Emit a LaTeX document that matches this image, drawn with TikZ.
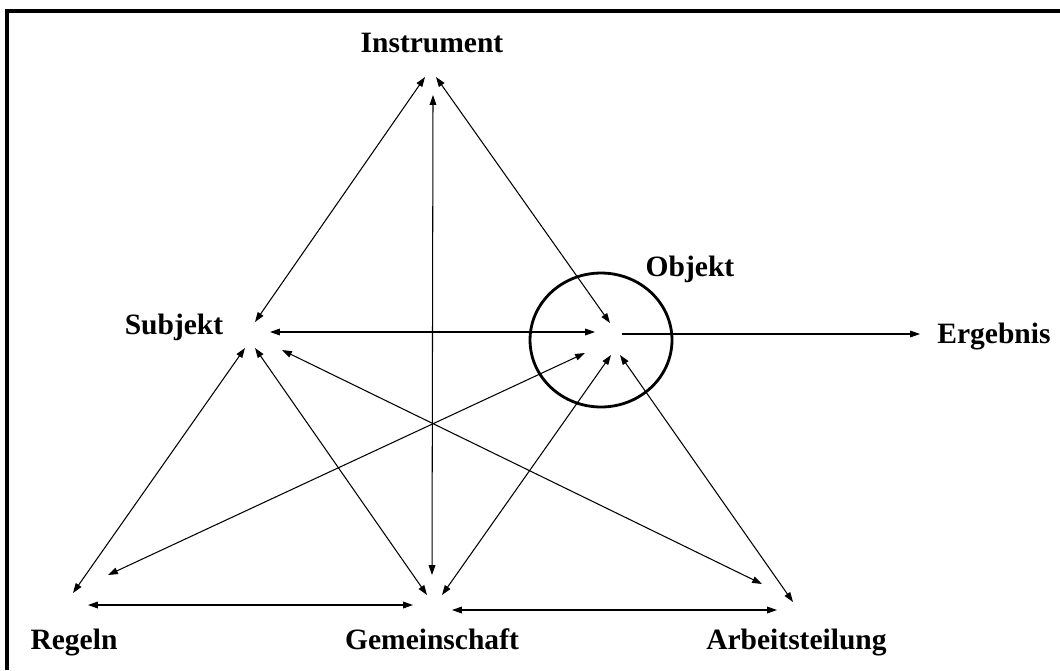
\documentclass[tikz,border=0pt]{standalone}
\usepackage{fontspec}
\setmainfont{Liberation Serif}
\usetikzlibrary{arrows.meta,shapes.geometric}
\begin{document}
\begin{tikzpicture}[
        x=0.02cm, y=-0.02cm,
        label/.style={font=\bfseries\fontsize{16.8}{20}\selectfont, inner sep=0pt, anchor=base},
        link/.style={{Triangle[length=5.6pt,width=3.8pt]}-{Triangle[length=5.6pt,width=3.8pt]}, line width=0.6pt},
        oneway/.style={-{Triangle[length=5.6pt,width=3.8pt]}, line width=0.6pt}
    ]
    \useasboundingbox (0,0) rectangle (1060,670);
    \draw[line width=1.9pt] (1060,11) -- (7,11) -- (7,670);
    % labels
    \node[label] (instrument) at (432,52) {Instrument};
    \node[label] (subjekt) at (174,334) {Subjekt};
    \node[label] (objekt) at (690,276) {Objekt};
    \node[label, anchor=base west] (ergebnis) at (937,343) {Ergebnis};
    \node[label] (regeln) at (74,649) {Regeln};
    \node[label] (gemeinschaft) at (432,649) {Gemeinschaft};
    \node[label, anchor=base east] (arbeitsteilung) at (887,649) {Arbeitsteilung};
    \node[draw, ellipse, line width=1.6pt, minimum width=2.84cm, minimum height=2.68cm] (objring) at (601,340) {};
    % end points
    \coordinate (ins-sub) at (425,77);
    \coordinate (ins-obj) at (436,77);
    \coordinate (ins-gem) at (433,95);
    \coordinate (sub-ins) at (255,322);
    \coordinate (sub-obj) at (270,332);
    \coordinate (sub-reg) at (245,348);
    \coordinate (sub-gem) at (255,348);
    \coordinate (sub-arb) at (282,350);
    \coordinate (obj-ins) at (610,323);
    \coordinate (obj-sub) at (595,332);
    \coordinate (obj-erg) at (622,334);
    \coordinate (obj-reg) at (585,353);
    \coordinate (obj-gem) at (611,355);
    \coordinate (obj-arb) at (620,355);
    \coordinate (erg-obj) at (920,334);
    \coordinate (reg-sub) at (73,593);
    \coordinate (reg-obj) at (108,575);
    \coordinate (reg-gem) at (88,605);
    \coordinate (gem-ins) at (432,575);
    \coordinate (gem-sub) at (427,595);
    \coordinate (gem-obj) at (442,595);
    \coordinate (gem-reg) at (413,605);
    \coordinate (gem-arb) at (452,610);
    \coordinate (arb-sub) at (762,584);
    \coordinate (arb-obj) at (793,602);
    \coordinate (arb-gem) at (777,610);
    % connectors
    \draw[link] (ins-sub) -- (sub-ins);
    \draw[link] (ins-obj) -- (obj-ins);
    \draw[link] (ins-gem) -- (gem-ins);
    \draw[link] (sub-obj) -- (obj-sub);
    \draw[link] (sub-reg) -- (reg-sub);
    \draw[link] (sub-gem) -- (gem-sub);
    \draw[link] (sub-arb) -- (arb-sub);
    \draw[link] (obj-reg) -- (reg-obj);
    \draw[link] (obj-gem) -- (gem-obj);
    \draw[link] (obj-arb) -- (arb-obj);
    \draw[link] (reg-gem) -- (gem-reg);
    \draw[link] (gem-arb) -- (arb-gem);
    \draw[oneway] (obj-erg) -- (erg-obj);
\end{tikzpicture}
\end{document}
